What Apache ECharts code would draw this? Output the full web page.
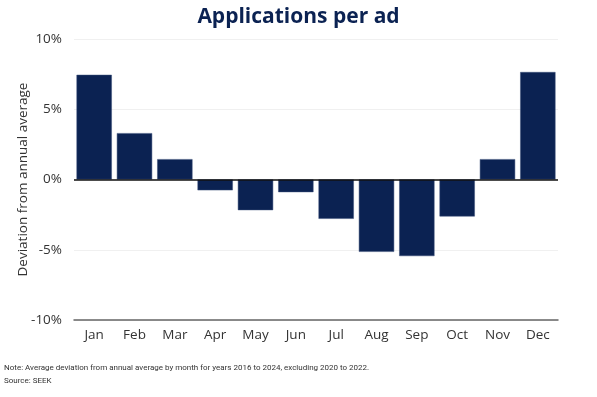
<!DOCTYPE html>
<html>
<head>
<meta charset="utf-8">
<script src="https://cdn.jsdelivr.net/npm/echarts@6/dist/echarts.min.js"></script>
<style>
  html, body { margin: 0; padding: 0; background: #fff; }
  #chart { width: 597px; height: 397px; }
</style>
</head>
<body>
<div id="chart"></div>
<script>
const months = ['Jan', 'Feb', 'Mar', 'Apr', 'May', 'Jun', 'Jul', 'Aug', 'Sep', 'Oct', 'Nov', 'Dec'];
const deviation = [7.45, 3.3, 1.45, -0.77, -2.18, -0.9, -2.8, -5.15, -5.45, -2.63, 1.45, 7.65];
const yTicks = [-10, -5, 0, 5, 10];

const navy = '#0b2252';
const chart = echarts.init(document.getElementById('chart'));

chart.setOption({
    animation: false,
    title: {
        text: 'Applications per ad',
        left: 'center',
        top: 2,
        textStyle: { color: navy, fontSize: 21, fontWeight: 'bold', fontFamily: 'Open Sans' }
    },
    graphic: [
        {
            type: 'text', left: 4, top: 361,
            style: {
                text: 'Note: Average deviation from annual average by month for years 2016 to 2024, excluding 2020 to 2022.\nSource: SEEK',
                fill: '#333', font: '8px Roboto', lineHeight: 13
            }
        }
    ],
    grid: { left: 74, right: 39, top: 39, bottom: 77, containLabel: false, outerBoundsMode: 'none' },
    xAxis: {
        type: 'category',
        data: months,
        axisLine: { onZero: false, lineStyle: { color: '#666', width: 1.5 } },
        axisTick: { show: false },
        axisLabel: { color: '#333', fontSize: 13.5, fontFamily: 'Open Sans', margin: 8 }
    },
    yAxis: {
        type: 'value',
        min: yTicks[0],
        max: yTicks[yTicks.length - 1],
        interval: 5,
        name: 'Deviation from annual average',
        nameLocation: 'middle',
        nameGap: 44,
        nameMoveOverlap: false,
        nameTextStyle: { color: '#333', fontSize: 13.5, fontFamily: 'Open Sans' },
        axisLine: { show: false },
        axisTick: { show: false },
        axisLabel: { color: '#333', fontSize: 13.5, fontFamily: 'Open Sans', margin: 12, formatter: '{value}%' },
        splitLine: { lineStyle: { color: '#f0f0f0' } }
    },
    series: [{
        type: 'bar',
        data: deviation,
        barCategoryGap: '12.5%',
        itemStyle: { color: navy, borderColor: '#3a4f78', borderWidth: 0.5 },
        markLine: {
            silent: true,
            symbol: 'none',
            label: { show: false },
            lineStyle: { color: '#111', type: 'solid', width: 1.5 },
            data: [{ yAxis: 0 }]
        }
    }]
});
</script>
</body>
</html>
